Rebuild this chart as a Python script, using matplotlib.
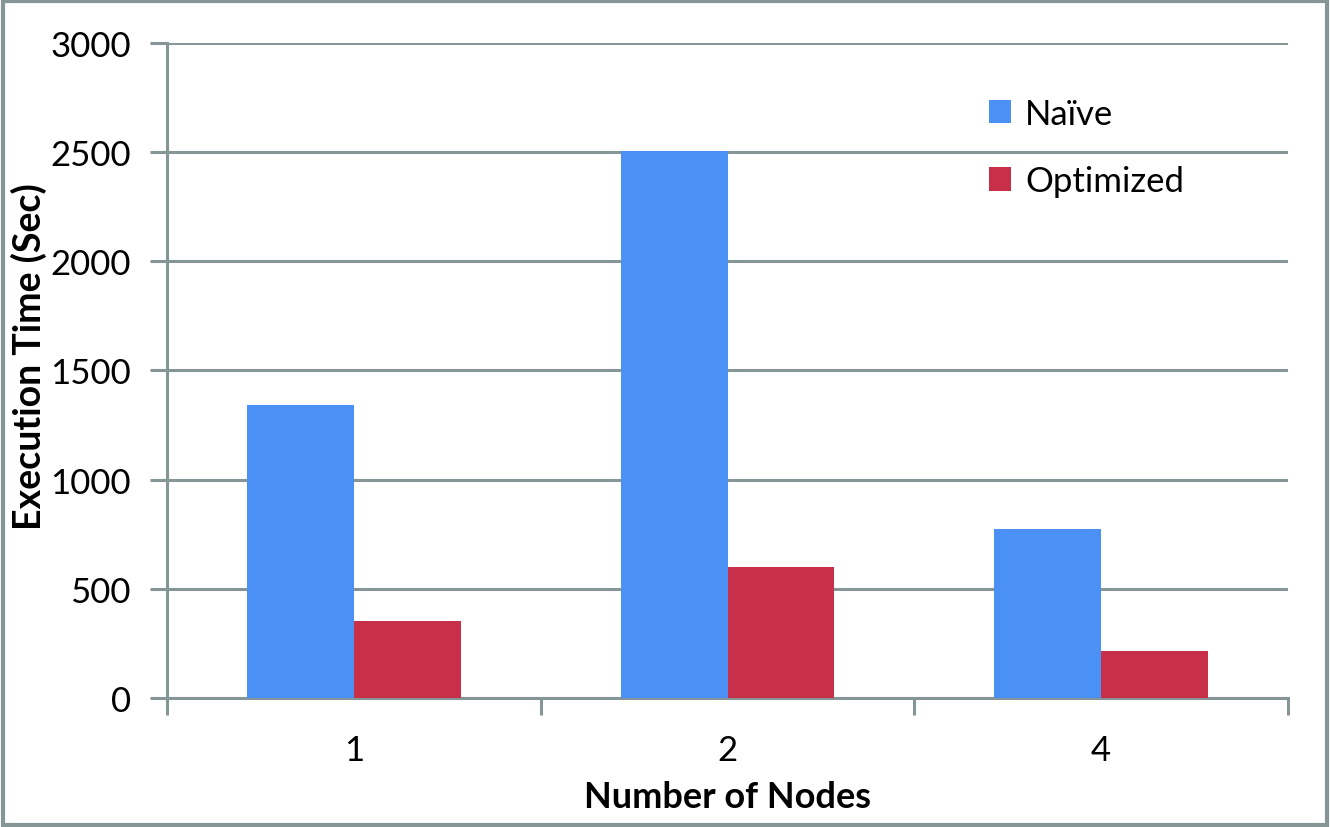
import matplotlib
matplotlib.use("Agg")
import matplotlib.pyplot as plt
from matplotlib.patches import Rectangle

nodes = ["1", "2", "4"]
naive_time = [1342, 2505, 773]
optimized_time = [352, 600, 213]
y_ticks = [0, 500, 1000, 1500, 2000, 2500, 3000]

plt.rcParams['font.family'] = ['Lato', 'DejaVu Sans']
grid_color = '#869595'

fig = plt.figure(figsize=(13.3, 8.28), dpi=100)
ax = fig.add_axes([0.1256, 0.1558, 0.8428, 0.7911])

width = 0.286
x = list(range(len(nodes)))
ax.bar([i - width / 2 for i in x], naive_time, width, color='#4A90F5', label='Naïve', zorder=3)
ax.bar([i + width / 2 for i in x], optimized_time, width, color='#C8304A', label='Optimized', zorder=3)

ax.set_xlim(-0.5, len(nodes) - 0.5)
ax.set_ylim(0, 3000)
ax.set_yticks(y_ticks)
ax.yaxis.grid(True, color=grid_color, linewidth=2.2, zorder=0)
ax.tick_params(axis='y', length=12, width=2.2, color=grid_color, labelsize=25, pad=14)

# category boundaries as ticks, labels at the centres
ax.set_xticks([i - 0.5 for i in range(len(nodes) + 1)])
ax.set_xticklabels([])
ax.set_xticks(x, minor=True)
ax.set_xticklabels(nodes, minor=True)
ax.tick_params(axis='x', which='major', length=12, width=2.2, color=grid_color)
ax.tick_params(axis='x', which='minor', length=0, labelsize=25, pad=26)

for side in ['top', 'right']:
    ax.spines[side].set_visible(False)
for side in ['left', 'bottom']:
    ax.spines[side].set_color(grid_color)
    ax.spines[side].set_linewidth(2.2)

ax.set_xlabel('Number of Nodes', fontsize=26, fontweight='bold', labelpad=10)
ax.set_ylabel('Execution Time (Sec)', fontsize=27, fontweight='bold', labelpad=2)
ax.yaxis.label.set_y(0.522)

ax.legend(loc='upper left', bbox_to_anchor=(0.705, 0.964), frameon=False, fontsize=25,
          handlelength=0.65, handleheight=0.65, handletextpad=0.4, labelspacing=1.02)

fig.patches.append(Rectangle((0.002, 0.003), 0.996, 0.994, transform=fig.transFigure,
                             fill=False, edgecolor=grid_color, linewidth=3))

fig.savefig('out.png', dpi=100)
